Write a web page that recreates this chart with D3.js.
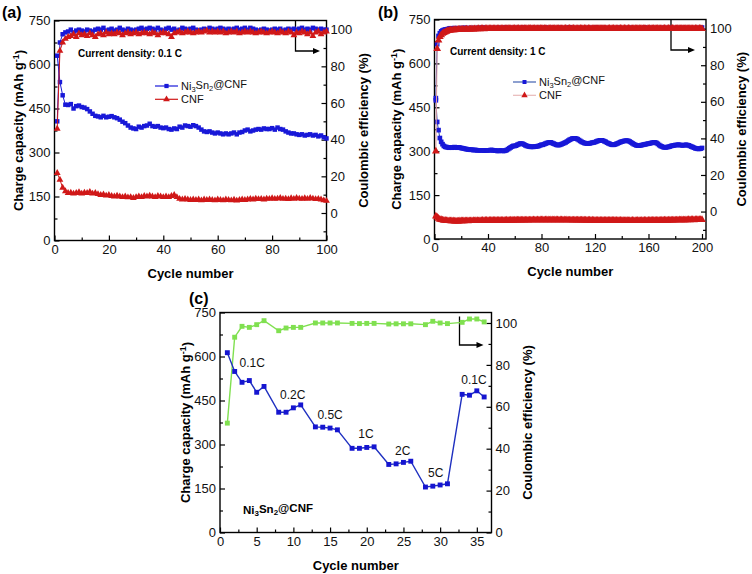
<!DOCTYPE html>
<html><head><meta charset="utf-8">
<script src="https://cdn.jsdelivr.net/npm/d3@7"></script>
<style>body{margin:0;background:#fff}svg{display:block}text{font-family:"Liberation Sans",Arial,sans-serif}</style>
</head><body><svg id="c" width="752" height="574"></svg>
<script>
// ---------- DATA ----------
// Panel (a): 0.1 C, cycles 1..100
const aNiCap = [
630,540,495,463,462,465,450,458,460,455,
453,448,440,432,425,423,420,425,420,422,
424,420,417,412,405,400,392,385,382,380,
388,385,390,392,398,390,388,390,385,383,
385,380,378,382,380,388,385,392,390,388,
393,390,385,378,372,370,372,368,365,368,
365,362,365,362,365,368,362,368,370,375,
378,372,375,378,380,378,382,380,380,383,
378,385,380,378,372,368,365,365,362,360,
362,358,360,362,358,360,355,358,352,348];
const aNiCE = [
50,93,97.5,98.5,99,100,98.5,99.5,100,99.5,
99,100,99.5,99,100,100.5,100,101,99.5,100,
100.5,99.5,100,101,100,99.5,100.5,100,99.5,100,
100.5,101,100,100.5,101,100.5,100,101,100,99.5,
100.5,101,100,100.5,99.5,100,101,100.5,100,100.5,
101,100,99.5,100,100.5,100,101,100.5,100,100.5,
101,100.5,100,100.5,100,100.5,101,100,100.5,101,
100,101,100.5,100,99.5,100,100.5,100,99.5,100,
100.5,100,100.5,99.5,100,100.5,100,100.5,100,100.5,
101,100,100.5,100,101,100.5,100,100.5,100,100];
const aCnfCap = [
230,207,180,168,162,163,160,162,165,160,
163,162,166,160,162,158,155,157,153,155,
152,150,153,150,148,150,147,148,145,148,
150,148,152,150,153,150,148,152,150,148,
150,148,152,155,148,142,140,142,140,138,
140,138,140,137,140,138,140,138,137,140,
138,137,140,138,137,139,136,138,140,138,
140,142,140,143,141,142,140,143,142,144,
142,143,145,142,143,141,144,142,145,143,
142,144,142,145,143,141,142,140,137,135];
const aCnfCE = [
46,88.5,93,95,96,96.5,97.5,96,98,97,
97.5,96.5,98,97,96,97.5,98,97,98.5,97.5,
98,97.5,98.5,98,97,98,98.5,97.5,98,98.5,
97.5,98,98.5,98,97.5,98.5,98,97,98,98.5,
98,97.5,96,98,98.5,99,98,98.5,99,98.5,
98,98.5,99,98.5,99,99.5,98.5,99,98.5,99,
98.5,99,98,98.5,99,98.5,99,98,98.5,99,
98.5,99,98.5,98,98.5,99,98.5,98,98.5,99,
98.5,98,99,98.5,98,99,98.5,97,98.5,98,
99,98.5,97.5,98.5,96.5,98.5,99,97.5,98.5,99];

// Panel (b): 1 C, cycles 1..200
const bNiCap = [
474,400,372,345,332,324,318,315,314,313,
312,313,312,313,314,313,312,313,312,311,
310,309,308,307,306,306,305,305,304,304,
304,303,303,303,303,303,302,302,303,303,
303,304,304,303,302,302,301,301,302,302,
301,301,302,304,307,310,313,316,318,318,
319,322,324,326,326,325,323,320,318,317,
316,315,315,315,316,316,317,318,320,322,
322,324,326,328,329,330,330,328,326,324,
322,321,321,322,324,326,328,330,333,336,
339,341,343,344,344,343,341,338,335,332,
330,328,327,326,326,327,328,329,330,331,
333,335,336,337,337,336,334,332,329,327,
325,323,322,322,323,325,327,329,331,333,
334,335,336,336,335,333,330,327,324,322,
320,319,319,320,321,322,323,324,325,326,
327,328,329,330,330,328,325,321,318,316,
314,313,313,314,315,316,318,319,320,321,
321,322,322,321,320,320,321,322,321,320,
318,316,314,312,310,309,308,308,309,311];
const bNiCE = [
62,91.5,96,97.5,98.5,99,99.3,99.5,99.6,99.8,
100,100.2,99.9,100.1,100.3,100,100.2,99.9,100.1,100.4,
100,100.2,100.5,100.1,99.9,100.2,100.4,100,100.1,100.3,
100.2,100,100.4,100.1,100.3,100.6,100.2,100,100.1,100.3,
100,100.2,100.4,100.1,100.3,100,100.2,100.5,100.2,100,
100.1,100.3,100.6,100.2,100,100.3,100.1,100.4,100.2,100,
100.2,100.4,100.1,100.3,100,100.6,100.2,100.1,100.3,100,
100.2,100.1,100.4,100,100.2,100.3,100.1,100.5,100.2,100,
100.3,100.1,100.6,100.2,100,100.2,100.4,100.1,100.3,100,
100.2,100.1,100.3,100.5,100.2,100.1,100.3,100,100.2,100.4,
100.7,100.3,100.1,100.2,100,100.3,100.1,100.2,100.4,100,
100.2,100.1,100.3,100,100.2,100.4,100.1,100.3,100,100.2,
100.6,100.2,100.1,100.3,100,100.2,100.4,100.1,100,100.2,
100.3,100.1,100.2,100,100.3,100.1,100.2,100.5,100.2,100,
100.2,100.1,100.3,100,100.2,100.4,100.1,100.3,100,100.2,
100.1,100.3,100.2,100,100.2,100.1,100.6,100.2,100,100.3,
100.1,100.2,100.4,100,100.2,100.1,100.3,100,100.2,100.4,
100.1,100.3,100,100.2,100.1,100.5,100.2,100,100.3,100.1,
100.2,100,100.3,100.1,100.2,100.4,100,100.2,100.1,100.3,
100,100.2,100.1,100.3,100.2,100,100.2,100.4,100.1,100.6];
const bCnfCap = [
78,74,70,67,65.5,64.5,63.5,63,62.5,62,
62,61.5,61.5,61.5,61,61,61,61,61.5,61.5,
61.5,61.5,62,62,61.5,62,62,62,62.5,62,
62.5,62.5,62,62.5,62.5,63,62.5,63,63,62.5,
63,63,63.5,63,63,63.5,63,63.5,63.5,63,
63.5,63.5,63.5,64,63.5,63.5,64,64,63.5,64,
64,64,64.5,64,64,64.5,64,64.5,64.5,64,
64.5,64.5,64.5,65,64.5,64.5,65,64.5,65,65,
65,64.5,65,65,65,64.5,65,65,64.5,65,
65,65,64.5,65,65,64.5,65,64.5,65,64.5,
64.5,64.5,64,64.5,64.5,64,64.5,64,64,64.5,
64,64,64,63.5,64,64,63.5,64,63.5,63.5,
63.5,63.5,63,63.5,63.5,63,63.5,63,63,63.5,
63,63,63,63.5,63,63,62.5,63,63,62.5,
63,62.5,62.5,63,62.5,62.5,62.5,63,62.5,62.5,
62.5,63,62.5,62.5,63,62.5,63,63,62.5,63,
63,63,63.5,63,63.5,63.5,63,63.5,63.5,64,
63.5,64,64,63.5,64,64,64.5,64,64,64.5,
64.5,64.5,65,64.5,65,65,64.5,65,65,65.5,
65,65.5,65.5,65,65.5,65.5,66,65.5,66,66];
const bCnfCE = [
33,89,93.6,95.5,96.5,97.3,97.8,98.2,98.5,98.8,
99,99.1,99.2,99.3,99.3,99.4,99.4,99.5,99.5,99.5,
99.6,99.6,99.6,99.7,99.6,99.7,99.7,99.8,99.7,99.8,
99.8,99.8,99.9,99.8,99.9,99.9,99.8,99.9,100,99.9,
99.9,100,99.9,100,100,99.9,100,100,99.9,100,
100,100,99.9,100,100.1,100,100,99.9,100,100.1,
100,100,100.1,100,99.9,100,100.1,100,100,100.1,
100,100.1,100,100,100.1,100,99.9,100,100.1,100,
100,100.1,100,100,99.9,100,100.1,100,100,100.1,
100,100,100.1,100,100,99.9,100,100.1,100,100,
100.1,100,100,100.1,100,99.9,100,100,100.1,100,
100,100.1,100,100,100.1,100,100,99.9,100,100.1,
100,100,100.1,100,100,100.1,100,99.9,100,100,
100.1,100,100,100.1,100,100,99.9,100,100.1,100,
100,100.1,100,100,100.1,100,100,99.9,100,100.1,
100,100,100.1,100,100,100.1,100,100,99.9,100,
100.1,100,100,100.1,100,100,100.1,100,99.9,100,
100,100.1,100,100,100.1,100,100,100.1,100,99.9,
100,100.1,100,100,100.1,100,100,100.1,100,100,
100.1,100,99.9,100,100.1,100,100,100.1,100,100];

// Panel (c): rate capability
const cCycles = [1,2,3,4,5,6,8,9,10,11,13,14,15,16,18,19,20,21,23,24,25,26,28,29,30,31,33,34,35,36];
const cCap = [613,549,512,518,478,498,410,410,425,435,360,359,356,350,287,287,290,292,232,234,239,243,155,158,162,166,471,468,483,462];
const cCE = [52.2,93.2,98.4,97.9,99.2,101.1,96.3,97.6,97.9,97.9,100,100,100,100,99.8,99.7,99.8,99.8,99.5,99.6,99.6,99.6,99.2,100.8,100,99.7,100.3,101.9,101.9,100.5];
const cRateLabels = ["0.1C","0.2C","0.5C","1C","2C","5C","0.1C"];
const cRateAt = [[4.4,580],[9.9,470],[15,400],[19.9,335],[24.9,280],[29.4,205],[34.6,520]]; // [cycle, capacity]

const capTicks = [0,150,300,450,600,750];
const capMinor = [75,225,375,525,675];
const ceTicks = [0,20,40,60,80,100];
const ceMinor = [-10,10,30,50,70,90];
const seriesNames = ["Ni3Sn2@CNF","CNF"];

// ---------- DRAW ----------
const svg = d3.select("#c");
const FONT = '"Liberation Sans", Arial, sans-serif';
const BLUE = "#1818d8", RED = "#d01818", GREEN = "#80e050";

function panel(cfg){
  const g = svg.append("g");
  const x = d3.scaleLinear().domain(cfg.xDom).range([cfg.x0, cfg.x1]);
  const yL = d3.scaleLinear().domain([0,750]).range([cfg.y1, cfg.y0]);
  const yR = d3.scaleLinear().domain(cfg.yRDom).range([cfg.y1, cfg.y0]);
  function ax(axis, tr){
    const a = g.append("g").attr("transform", tr).call(axis);
    a.select(".domain").remove();
    a.selectAll("line").attr("stroke","#000").attr("stroke-width",1.2);
    a.selectAll("text").attr("font-size", 13).attr("font-family", FONT).attr("fill","#111");
  }
  ax(d3.axisBottom(x).tickValues(cfg.xTicks).tickSizeInner(-5).tickSizeOuter(0).tickPadding(4), `translate(0,${cfg.y1})`);
  ax(d3.axisBottom(x).tickValues(cfg.xMinor).tickSizeInner(-3).tickSizeOuter(0).tickFormat(""), `translate(0,${cfg.y1})`);
  ax(d3.axisLeft(yL).tickValues(capTicks).tickSizeInner(-5).tickSizeOuter(0).tickPadding(4), `translate(${cfg.x0},0)`);
  ax(d3.axisLeft(yL).tickValues(capMinor).tickSizeInner(-3).tickSizeOuter(0).tickFormat(""), `translate(${cfg.x0},0)`);
  ax(d3.axisRight(yR).tickValues(ceTicks).tickSizeInner(-5).tickSizeOuter(0).tickPadding(4), `translate(${cfg.x1},0)`);
  ax(d3.axisRight(yR).tickValues(ceMinor.filter(v=>v>=cfg.yRDom[0])).tickSizeInner(-3).tickSizeOuter(0).tickFormat(""), `translate(${cfg.x1},0)`);
  g.append("rect").attr("x",cfg.x0).attr("y",cfg.y0).attr("width",cfg.x1-cfg.x0).attr("height",cfg.y1-cfg.y0)
    .attr("fill","none").attr("stroke","#000").attr("stroke-width",1.4);
  const lt = g.append("text").attr("transform",`translate(${cfg.ltx},${(cfg.y0+cfg.y1)/2}) rotate(-90)`)
    .attr("text-anchor","middle").attr("dy","0.35em").attr("font-size",13).attr("font-weight","bold").attr("font-family",FONT);
  lt.append("tspan").text("Charge capacity (mAh g");
  lt.append("tspan").attr("dy","-0.45em").attr("font-size",9).text("-1");
  lt.append("tspan").attr("dy","0.45em").text(")");
  g.append("text").attr("transform",`translate(${cfg.rtx},${(cfg.y0+cfg.y1)/2}) rotate(-90)`)
    .attr("text-anchor","middle").attr("dy","0.35em").attr("font-size",13).attr("font-weight","bold").attr("font-family",FONT)
    .text("Coulombic efficiency (%)");
  g.append("text").attr("x",(cfg.x0+cfg.x1)/2).attr("y",cfg.xty).attr("text-anchor","middle")
    .attr("font-size",13).attr("font-weight","bold").attr("font-family",FONT).text("Cycle number");
  g.append("text").attr("x",cfg.lab[0]).attr("y",cfg.lab[1]).attr("font-size",16).attr("font-weight","bold")
    .attr("font-family",FONT).text(cfg.label);
  const ar = cfg.arrow;
  g.append("path").attr("d",`M${ar[0]},${ar[1]}V${ar[2]}H${ar[3]-5}`).attr("fill","none").attr("stroke","#000").attr("stroke-width",1.3);
  g.append("path").attr("d",`M${ar[3]},${ar[2]}L${ar[3]-7},${ar[2]-3}L${ar[3]-7},${ar[2]+3}Z`).attr("fill","#000");
  return {g,x,yL,yR};
}

function series(p, xs, ys, yScale, color, lineColor, shape, size, lw){
  const pts = xs.map((c,i)=>[c, ys[i]]);
  p.g.append("path").datum(pts).attr("fill","none").attr("stroke",lineColor).attr("stroke-width",lw)
    .attr("d", d3.line().x(d=>p.x(d[0])).y(d=>yScale(d[1])));
  const sym = d3.symbol().type(shape).size(size);
  p.g.append("g").selectAll("path").data(pts).join("path")
    .attr("transform", d=>`translate(${p.x(d[0])},${yScale(d[1])})`).attr("d", sym).attr("fill", color);
}
function idx(arr){ return arr.map((_,i)=>i+1); }

function legend(p, lx, ly, items){
  items.forEach((it,i)=>{
    const y = ly + i*13.3;
    p.g.append("line").attr("x1",lx).attr("x2",lx+23).attr("y1",y).attr("y2",y).attr("stroke",it.line).attr("stroke-width",1.2);
    p.g.append("path").attr("transform",`translate(${lx+11.5},${y})`).attr("d",d3.symbol().type(it.shape).size(it.size)()).attr("fill",it.color);
    const t = p.g.append("text").attr("x",lx+26).attr("y",y).attr("dy","0.36em").attr("font-size",11).attr("font-family",FONT).attr("fill","#111");
    if(it.name==="Ni3Sn2@CNF"){
      t.append("tspan").text("Ni");
      t.append("tspan").attr("dy","0.3em").attr("font-size",7.5).text("3");
      t.append("tspan").attr("dy","-0.3em").text("Sn");
      t.append("tspan").attr("dy","0.3em").attr("font-size",7.5).text("2");
      t.append("tspan").attr("dy","-0.3em").text("@CNF");
    } else t.text(it.name);
  });
}

// Panel (a)
const pa = panel({x0:54.5,x1:326.5,y0:20.5,y1:240.5,xDom:[0,100],xTicks:[0,20,40,60,80,100],xMinor:[10,30,50,70,90],
  yRDom:[-15,105],ltx:18,rtx:363,xty:278,lab:[2,18],label:"(a)",arrow:[295.5,20.5,51,320]});
series(pa, idx(aNiCap), aNiCap, pa.yL, BLUE, BLUE, d3.symbolSquare, 20, 1);
series(pa, idx(aNiCE), aNiCE, pa.yR, BLUE, BLUE, d3.symbolSquare, 20, 1);
series(pa, idx(aCnfCap), aCnfCap, pa.yL, RED, RED, d3.symbolTriangle, 20, 1);
series(pa, idx(aCnfCE), aCnfCE, pa.yR, RED, RED, d3.symbolTriangle, 20, 1);
pa.g.append("text").attr("x",78).attr("y",53.5).attr("dy","0.35em").attr("font-size",10).attr("font-weight","bold").attr("font-family",FONT).text("Current density: 0.1 C");
legend(pa,155,86,[{name:seriesNames[0],color:BLUE,line:BLUE,shape:d3.symbolSquare,size:18},{name:seriesNames[1],color:RED,line:RED,shape:d3.symbolTriangle,size:20}]);

// Panel (b)
const pb = panel({x0:434.5,x1:706,y0:19.5,y1:239,xDom:[0,203],xTicks:[0,40,80,120,160,200],xMinor:[20,60,100,140,180],
  yRDom:[-15,105],ltx:396,rtx:741,xty:276,lab:[378,18],label:"(b)",arrow:[671,19.5,50,695]});
series(pb, idx(bNiCap), bNiCap, pb.yL, BLUE, "#3040b0", d3.symbolSquare, 22, 1);
series(pb, idx(bNiCE), bNiCE, pb.yR, BLUE, "#3040b0", d3.symbolSquare, 22, 1);
series(pb, idx(bCnfCap), bCnfCap, pb.yL, RED, "#e0a0a0", d3.symbolTriangle, 26, 1);
series(pb, idx(bCnfCE), bCnfCE, pb.yR, RED, "#e0a0a0", d3.symbolTriangle, 26, 1);
pb.g.append("text").attr("x",450).attr("y",51).attr("dy","0.35em").attr("font-size",10).attr("font-weight","bold").attr("font-family",FONT).text("Current density: 1 C");
legend(pb,513,82,[{name:seriesNames[0],color:BLUE,line:"#4060b0",shape:d3.symbolSquare,size:16},{name:seriesNames[1],color:RED,line:"#e8b8b8",shape:d3.symbolTriangle,size:18}]);

// Panel (c)
const pc = panel({x0:220,x1:491.5,y0:312.5,y1:532.5,xDom:[0,37],xTicks:[0,5,10,15,20,25,30,35],xMinor:[2.5,7.5,12.5,17.5,22.5,27.5,32.5],
  yRDom:[0,105],ltx:185,rtx:527,xty:570,lab:[189,304],label:"(c)",arrow:[459.5,316.5,345,483.5]});
series(pc, cCycles, cCE, pc.yR, GREEN, GREEN, d3.symbolSquare, 24, 1.4);
series(pc, cCycles, cCap, pc.yL, "#1515d0", "#1f30c0", d3.symbolSquare, 24, 1.4);
cRateLabels.forEach((t,i)=>{
  pc.g.append("text").attr("x",pc.x(cRateAt[i][0])).attr("y",pc.yL(cRateAt[i][1])).attr("text-anchor","middle").attr("dy","0.35em")
    .attr("font-size",12).attr("font-family",FONT).attr("fill","#111").text(t);
});
{
  const t = pc.g.append("text").attr("x",243).attr("y",510).attr("dy","0.35em").attr("font-size",11.5).attr("font-weight","bold").attr("font-family",FONT);
  t.append("tspan").text("Ni");
  t.append("tspan").attr("dy","0.3em").attr("font-size",8).text("3");
  t.append("tspan").attr("dy","-0.3em").text("Sn");
  t.append("tspan").attr("dy","0.3em").attr("font-size",8).text("2");
  t.append("tspan").attr("dy","-0.3em").text("@CNF");
}
</script></body></html>
